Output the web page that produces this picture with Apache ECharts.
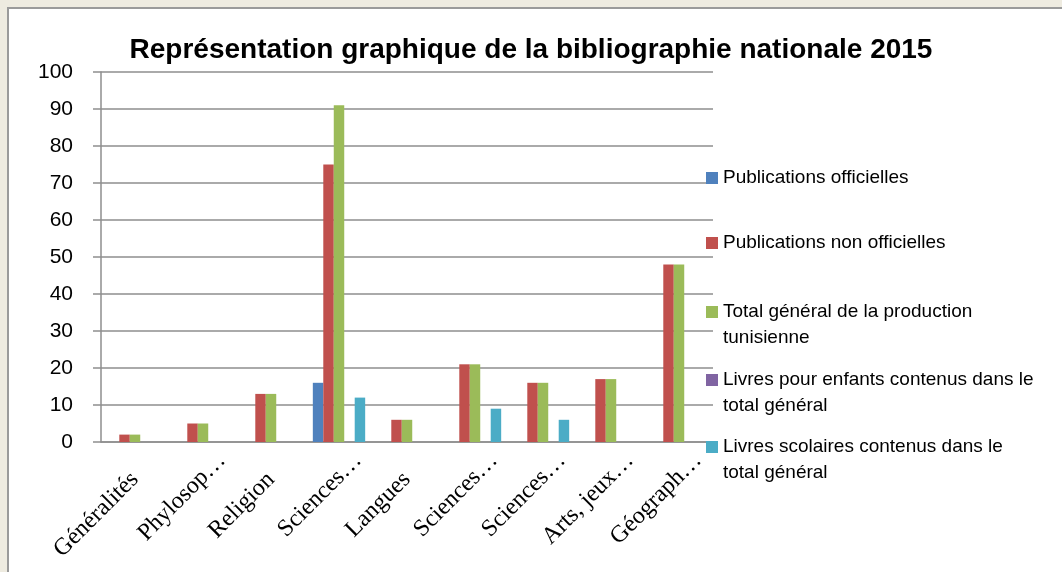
<!DOCTYPE html>
<html>
<head>
<meta charset="utf-8">
<script src="https://cdn.jsdelivr.net/npm/echarts@6/dist/echarts.min.js"></script>
<style>
  html, body { margin: 0; padding: 0; background: #EEEBE0; }
  #chart { width: 1062px; height: 572px; }
</style>
</head>
<body>
<div id="chart"></div>
<script>
// categories (labels as truncated in the original)
const categories = ['Généralités', 'Phylosop…', 'Religion', 'Sciences…', 'Langues',
  'Sciences…', 'Sciences…', 'Arts, jeux…', 'Géograph…']

const seriesNames = [
  'Publications officielles',
  'Publications non officielles',
  'Total général de la production tunisienne',
  'Livres pour enfants contenus dans le total général',
  'Livres scolaires contenus dans le total général'
]

const officielles = [0, 0, 0, 16, 0, 0, 0, 0, 0]
const nonOfficielles = [2, 5, 13, 75, 6, 21, 16, 17, 48]
const totalGeneral = [2, 5, 13, 91, 6, 21, 16, 17, 48]
const livresEnfants = [0, 0, 0, 0, 0, 0, 0, 0, 0]
const livresScolaires = [0, 0, 0, 12, 0, 9, 6, 0, 0]

const yTicks = [0, 10, 20, 30, 40, 50, 60, 70, 80, 90, 100]

const colors = ['#4F81BD', '#C0504D', '#9BBB59', '#8064A2', '#4BACC6']
const seriesData = [officielles, nonOfficielles, totalGeneral, livresEnfants, livresScolaires]

// legend labels wrapped like the original
const legendLines = [
  ['Publications officielles'],
  ['Publications non officielles'],
  ['Total général de la production', 'tunisienne'],
  ['Livres pour enfants contenus dans le', 'total général'],
  ['Livres scolaires contenus dans le', 'total général']
]
const legendIconY = [178, 243, 312, 380, 447]

const chart = echarts.init(document.getElementById('chart'))

// one legend per item so that the wrapped ones keep their icon on the first line
const legends = seriesNames.map((name, i) => {
  const lines = legendLines[i]
  // a blank first line keeps the icon level with the first real line
  const text = lines.length > 1 ? '\u00a0\n' + lines.join('\n') : lines[0]
  const half = lines.length > 1 ? 39 : 13
  return {
    data: [name],
    left: 706,
    top: legendIconY[i] - half,
    padding: 0,
    itemWidth: 12,
    itemHeight: 12,
    icon: 'rect',
    selectedMode: false,
    formatter: () => text,
    textStyle: {
      fontFamily: 'Liberation Sans',
      fontSize: 19,
      color: '#000',
      lineHeight: 26
    }
  }
})

chart.setOption({
  backgroundColor: '#EEEBE0',
  animation: false,
  color: colors,
  graphic: [{
    type: 'rect',
    z: -10,
    shape: { x: 8, y: 8, width: 1100, height: 600 },
    style: { fill: '#fff', stroke: '#9A9A9A', lineWidth: 2 }
  }],
  title: {
    text: 'Représentation graphique de la bibliographie nationale 2015',
    left: 'center',
    top: 36,
    padding: 0,
    textStyle: {
      fontFamily: 'Liberation Sans',
      fontWeight: 'bold',
      fontSize: 28,
      color: '#000'
    }
  },
  legend: legends,
  grid: {
    left: 101,
    top: 72,
    right: 349,
    bottom: 130
  },
  xAxis: {
    type: 'category',
    data: categories,
    axisLine: { lineStyle: { color: '#8E8E8E', width: 1.5 } },
    axisTick: { length: 6, lineStyle: { color: '#8E8E8E', width: 1.5 } },
    axisLabel: {
      rotate: 45,
      interval: 0,
      margin: 34,
      fontFamily: 'Liberation Serif',
      fontSize: 24,
      color: '#000',
      // truncated labels sit further along in the original
      formatter: v => v.slice(-1) === '…' ? '{e|' + v + '}' : '{n|' + v + '}',
      rich: {
        n: { fontFamily: 'Liberation Serif', fontSize: 24, color: '#000' },
        e: { fontFamily: 'Liberation Serif', fontSize: 24, color: '#000', padding: [0, -27, 0, 0] }
      }
    }
  },
  yAxis: {
    type: 'value',
    min: yTicks[0],
    max: yTicks[yTicks.length - 1],
    interval: 10,
    axisLine: { show: true, lineStyle: { color: '#8E8E8E', width: 1.5 } },
    axisTick: { show: true, length: 8, lineStyle: { color: '#8E8E8E', width: 1.5 } },
    splitLine: { lineStyle: { color: '#8E8E8E', width: 1.5 } },
    axisLabel: {
      margin: 28,
      fontFamily: 'Liberation Sans',
      fontSize: 21,
      color: '#000'
    }
  },
  series: seriesNames.map((name, i) => ({
    name: name,
    type: 'bar',
    data: seriesData[i],
    barGap: '0%',
    barCategoryGap: '23%',
    itemStyle: { color: colors[i] }
  }))
})
</script>
</body>
</html>
